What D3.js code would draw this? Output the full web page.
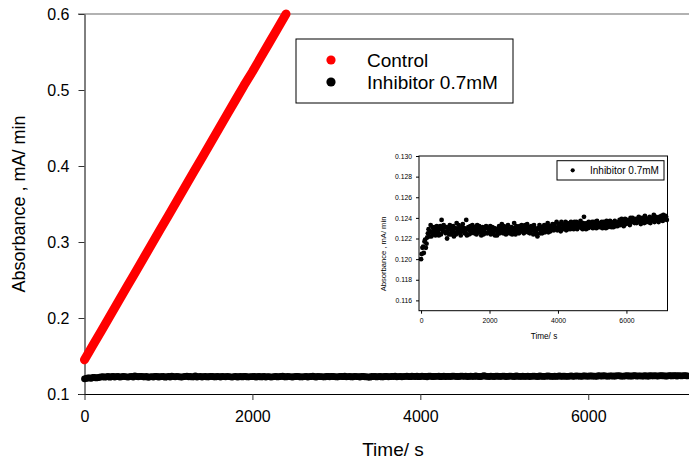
<!DOCTYPE html>
<html>
<head>
<meta charset="utf-8">
<script src="https://cdn.jsdelivr.net/npm/d3@7"></script>
<style>
  html, body { margin: 0; padding: 0; background: #fff; }
  svg { display: block; font-family: "Liberation Sans", Arial, sans-serif; }
</style>
</head>
<body>
<svg id="chart" width="689" height="462"></svg>
<script>
// Absorbance readings. Control: one reading every controlInterval seconds.
const controlInterval = 100;
const controlValues = [
  0.145, 0.164, 0.183, 0.202, 0.221, 0.240, 0.259, 0.278, 0.297, 0.316,
  0.335, 0.354, 0.373, 0.392, 0.411, 0.430, 0.449, 0.468, 0.487, 0.506,
  0.524, 0.543, 0.562, 0.581, 0.600
];

// Inhibitor: readings every inhibitorInterval seconds starting at 0 s ...
const inhibitorInterval = 40;
const inhibitorValues = [
  0.1200, 0.1211, 0.1206, 0.1219, 0.1215, 0.1225, 0.1222, 0.1233, 0.1227, 0.1224,
  0.1231, 0.1226, 0.1229, 0.1223, 0.1232, 0.1238, 0.1227, 0.1231, 0.1225, 0.1220,
  0.1229, 0.1233, 0.1224, 0.1228, 0.1222, 0.1230, 0.1235, 0.1226, 0.1229, 0.1223,
  0.1231, 0.1227, 0.1225, 0.1238, 0.1229, 0.1224, 0.1232, 0.1227, 0.1230, 0.1225,
  0.1228, 0.1233, 0.1226, 0.1229, 0.1223, 0.1231, 0.1227, 0.1225, 0.1230, 0.1226,
  0.1228, 0.1224, 0.1231, 0.1227, 0.1223, 0.1229, 0.1226, 0.1232, 0.1228, 0.1234,
  0.1225, 0.1229, 0.1224, 0.1230, 0.1227, 0.1226, 0.1231, 0.1228, 0.1235, 0.1224,
  0.1229, 0.1226, 0.1232, 0.1227, 0.1230, 0.1225, 0.1233, 0.1228, 0.1226, 0.1231,
  0.1227, 0.1229, 0.1224, 0.1230, 0.1226, 0.1222, 0.1229, 0.1225, 0.1231, 0.1227,
  0.1233, 0.1228, 0.1230, 0.1226, 0.1232, 0.1229, 0.1234, 0.1228, 0.1231, 0.1236,
  0.1229, 0.1232, 0.1227, 0.1234, 0.1230, 0.1233, 0.1228, 0.1235, 0.1231, 0.1229,
  0.1234, 0.1230, 0.1236, 0.1232, 0.1229, 0.1235, 0.1231, 0.1233, 0.1229, 0.1241,
  0.1232, 0.1235, 0.1230, 0.1234, 0.1232, 0.1236, 0.1231, 0.1234, 0.1230, 0.1235,
  0.1233, 0.1231, 0.1236, 0.1232, 0.1234, 0.1230, 0.1235, 0.1233, 0.1237, 0.1231,
  0.1234, 0.1236, 0.1232, 0.1235, 0.1233, 0.1238, 0.1234, 0.1236, 0.1232, 0.1239,
  0.1235, 0.1237, 0.1234, 0.1240, 0.1236, 0.1238, 0.1235, 0.1239, 0.1237, 0.1241,
  0.1236, 0.1239, 0.1237, 0.1235, 0.1240, 0.1238, 0.1236, 0.1241, 0.1237, 0.1239,
  0.1243, 0.1238, 0.1240, 0.1237, 0.1241, 0.1238, 0.1240, 0.1243, 0.1239, 0.1241
];

// ... and the interleaved readings taken half an interval later (20 s, 60 s, ...)
const inhibitorOffset = 20;
const inhibitorValuesMid = [
  0.1205, 0.1212, 0.1217, 0.1211, 0.1221, 0.1229, 0.1226, 0.1222, 0.1231, 0.1228,
  0.1223, 0.1232, 0.1226, 0.1229, 0.1224, 0.1230, 0.1233, 0.1227, 0.1231, 0.1226,
  0.1224, 0.1230, 0.1227, 0.1232, 0.1226, 0.1224, 0.1229, 0.1233, 0.1225, 0.1228,
  0.1234, 0.1230, 0.1226, 0.1223, 0.1231, 0.1228, 0.1225, 0.1233, 0.1227, 0.1231,
  0.1224, 0.1229, 0.1232, 0.1226, 0.1228, 0.1224, 0.1230, 0.1232, 0.1225, 0.1229,
  0.1232, 0.1227, 0.1225, 0.1230, 0.1228, 0.1223, 0.1229, 0.1225, 0.1231, 0.1227,
  0.1232, 0.1226, 0.1228, 0.1233, 0.1225, 0.1229, 0.1224, 0.1230, 0.1227, 0.1232,
  0.1228, 0.1225, 0.1230, 0.1233, 0.1228, 0.1226, 0.1231, 0.1234, 0.1229, 0.1225,
  0.1232, 0.1228, 0.1233, 0.1227, 0.1224, 0.1230, 0.1233, 0.1228, 0.1225, 0.1230,
  0.1226, 0.1232, 0.1235, 0.1229, 0.1227, 0.1231, 0.1229, 0.1234, 0.1230, 0.1228,
  0.1234, 0.1230, 0.1236, 0.1229, 0.1232, 0.1236, 0.1231, 0.1229, 0.1233, 0.1236,
  0.1232, 0.1229, 0.1234, 0.1236, 0.1231, 0.1233, 0.1237, 0.1230, 0.1235, 0.1232,
  0.1229, 0.1233, 0.1236, 0.1231, 0.1234, 0.1230, 0.1236, 0.1233, 0.1237, 0.1231,
  0.1235, 0.1233, 0.1230, 0.1236, 0.1233, 0.1237, 0.1231, 0.1234, 0.1236, 0.1233,
  0.1231, 0.1237, 0.1234, 0.1232, 0.1236, 0.1233, 0.1239, 0.1235, 0.1237, 0.1234,
  0.1238, 0.1236, 0.1233, 0.1238, 0.1240, 0.1236, 0.1238, 0.1235, 0.1239, 0.1237,
  0.1234, 0.1240, 0.1238, 0.1242, 0.1236, 0.1239, 0.1237, 0.1235, 0.1240, 0.1238,
  0.1236, 0.1241, 0.1239, 0.1236, 0.1240, 0.1242, 0.1237, 0.1239, 0.1242, 0.1238
];

const seriesNames = ["Control", "Inhibitor 0.7mM"];
const seriesColors = ["#ff0000", "#000000"];

const mainXTicks = [0, 2000, 4000, 6000];
const mainYTicks = [0.1, 0.2, 0.3, 0.4, 0.5, 0.6];
const insetXTicks = [0, 2000, 4000, 6000];
const insetYTicks = [0.116, 0.118, 0.120, 0.122, 0.124, 0.126, 0.128, 0.130];

const xTitle = "Time/ s";
const yTitle = "Absorbance , mA/ min";

const control = controlValues.map((v, i) => ({ t: i * controlInterval, v }));
const inhibitor = inhibitorValues.map((v, i) => ({ t: i * inhibitorInterval, v }))
  .concat(inhibitorValuesMid.map((v, i) => ({ t: i * inhibitorInterval + inhibitorOffset, v })))
  .sort((a, b) => a.t - b.t);

const svg = d3.select("#chart");
const FONT = "Liberation Sans, Arial, sans-serif";

// ---------- main panel ----------
const x = d3.scaleLinear().domain([0, 7200]).range([84.5, 689]);
const y = d3.scaleLinear().domain([0.1, 0.6]).range([394, 14]);

// top frame line (grey)
svg.append("line")
  .attr("x1", 78).attr("x2", 689).attr("y1", y(0.6)).attr("y2", y(0.6))
  .attr("stroke", "#666").attr("stroke-width", 1.2);

const xAxis = svg.append("g")
  .attr("transform", `translate(0,${y(0.1)})`)
  .call(d3.axisBottom(x).tickValues(mainXTicks).tickFormat(d3.format("d"))
    .tickSize(6).tickPadding(11).tickSizeOuter(0));
xAxis.select(".domain").attr("stroke", "#000").attr("d", `M78,0.5H689`);
xAxis.selectAll(".tick line").attr("stroke", "#333");
xAxis.selectAll("text").attr("font-size", 16).attr("fill", "#000").attr("font-family", FONT);

const yAxis = svg.append("g")
  .attr("transform", `translate(${x(0)},0)`)
  .call(d3.axisLeft(y).tickValues(mainYTicks).tickFormat(d3.format(".1f"))
    .tickSize(6).tickPadding(9).tickSizeOuter(0));
yAxis.select(".domain").attr("stroke", "#000");
yAxis.selectAll(".tick line").attr("stroke", "#333");
yAxis.selectAll("text").attr("font-size", 16).attr("fill", "#000").attr("font-family", FONT);

svg.append("text")
  .attr("x", 393).attr("y", 456)
  .attr("text-anchor", "middle").attr("font-size", 19)
  .text(xTitle);

svg.append("text")
  .attr("transform", "translate(25,204) rotate(-90)")
  .attr("text-anchor", "middle").attr("font-size", 18)
  .text(yTitle);

// control series: dense markers forming a thick line
svg.append("path")
  .datum(control)
  .attr("fill", "none")
  .attr("stroke", seriesColors[0])
  .attr("stroke-width", 9)
  .attr("stroke-linecap", "round")
  .attr("stroke-linejoin", "round")
  .attr("d", d3.line().x(d => x(d.t)).y(d => y(d.v)));

// inhibitor series
svg.append("g").selectAll("circle")
  .data(inhibitor).join("circle")
  .attr("cx", d => x(d.t)).attr("cy", d => y(d.v))
  .attr("r", 3.4).attr("fill", seriesColors[1]);

// legend
const legend = svg.append("g");
legend.append("rect")
  .attr("x", 296).attr("y", 39).attr("width", 217).attr("height", 64)
  .attr("fill", "#fff").attr("stroke", "#000").attr("stroke-width", 1);
seriesNames.forEach((name, i) => {
  legend.append("circle")
    .attr("cx", 331).attr("cy", 60 + i * 22).attr("r", 4.6)
    .attr("fill", seriesColors[i]);
  legend.append("text")
    .attr("x", 367).attr("y", 66.5 + i * 22)
    .attr("font-size", 19)
    .text(name);
});

// ---------- inset panel ----------
const xi = d3.scaleLinear().domain([-60, 7200]).range([419, 667.5]);
const yi = d3.scaleLinear().domain([0.115, 0.130]).range([310.7, 156]);

const inset = svg.append("g");
inset.append("rect")
  .attr("x", xi(-60)).attr("y", yi(0.130))
  .attr("width", xi(7200) - xi(-60)).attr("height", yi(0.115) - yi(0.130))
  .attr("fill", "#fff").attr("stroke", "#000").attr("stroke-width", 1);

const ixAxis = inset.append("g")
  .attr("transform", `translate(0,${yi(0.115)})`)
  .call(d3.axisBottom(xi).tickValues(insetXTicks).tickFormat(d3.format("d"))
    .tickSize(3).tickPadding(4).tickSizeOuter(0));
ixAxis.select(".domain").remove();
ixAxis.selectAll("text").attr("font-size", 6.8).attr("fill", "#000").attr("font-family", FONT);

const iyAxis = inset.append("g")
  .attr("transform", `translate(${xi(-60)},0)`)
  .call(d3.axisLeft(yi).tickValues(insetYTicks).tickFormat(d3.format(".3f"))
    .tickSize(3).tickPadding(4).tickSizeOuter(0));
iyAxis.select(".domain").remove();
iyAxis.selectAll("text").attr("font-size", 6.8).attr("fill", "#000").attr("font-family", FONT);

inset.append("text")
  .attr("x", 544).attr("y", 339)
  .attr("text-anchor", "middle").attr("font-size", 8.2)
  .text(xTitle);

inset.append("text")
  .attr("transform", "translate(386,254) rotate(-90)")
  .attr("text-anchor", "middle").attr("font-size", 7.6)
  .text(yTitle);

inset.append("g").selectAll("circle")
  .data(inhibitor).join("circle")
  .attr("cx", d => xi(d.t)).attr("cy", d => yi(d.v))
  .attr("r", 2.4).attr("fill", seriesColors[1]);

inset.append("rect")
  .attr("x", 557).attr("y", 160.7).attr("width", 107).attr("height", 19.3)
  .attr("fill", "#fff").attr("stroke", "#000").attr("stroke-width", 1);
inset.append("circle")
  .attr("cx", 572.7).attr("cy", 170.3).attr("r", 2.1).attr("fill", seriesColors[1]);
inset.append("text")
  .attr("x", 590).attr("y", 173.8).attr("font-size", 10)
  .text(seriesNames[1]);
</script>
</body>
</html>
